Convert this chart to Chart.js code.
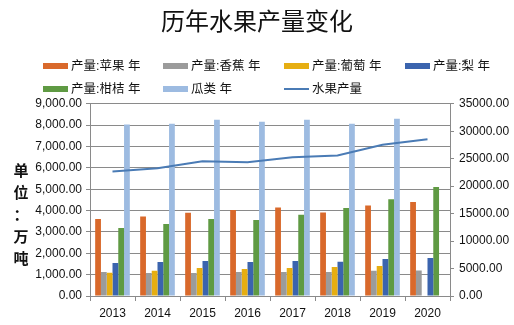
<!DOCTYPE html>
<html>
<head>
<meta charset="utf-8">
<script src="https://cdn.jsdelivr.net/npm/chart.js@4"></script>
<style>
  body { margin: 0; background: #fff; }
  #wrap { position: relative; width: 514px; height: 325px; }
  .lg { position: absolute; height: 16px; font: 12.5px "Liberation Sans", "Noto Sans CJK SC"; color: #111; white-space: nowrap; line-height: 16px; }
  .lg i { display: inline-block; width: 25px; height: 6px; vertical-align: middle; margin-right: 3px; margin-top: -2px; }
  .lg i.ln { height: 2px; }
  #ytitle { position: absolute; left: 12px; top: 159px; width: 18px; font: bold 15px "Noto Sans CJK SC"; line-height: 22px; text-align: center; color: #111; }
</style>
</head>
<body>
<div id="wrap">
  <canvas id="myChart" width="514" height="325"></canvas>
  <div id="legend"></div>
  <div id="ytitle">单<br>位<br>：<br>万<br>吨</div>
</div>
<script>
(function () {
  'use strict'

  // data
  var years = ['2013', '2014', '2015', '2016', '2017', '2018', '2019', '2020']
  var apple = [3610, 3720, 3900, 4030, 4140, 3910, 4235, 4405]
  var banana = [1120, 1080, 1080, 1120, 1125, 1125, 1180, 1190]
  var grape = [1090, 1180, 1310, 1265, 1310, 1360, 1405, null]
  var pear = [1550, 1590, 1640, 1595, 1640, 1600, 1735, 1780]
  var citrus = [3190, 3375, 3610, 3560, 3800, 4125, 4530, 5100]
  var melon = [8030, 8060, 8250, 8160, 8250, 8060, 8300, null]
  var total = [22660, 23270, 24550, 24370, 25280, 25580, 27530, 28560]

  var names = ['产量:苹果 年', '产量:香蕉 年', '产量:葡萄 年', '产量:梨 年', '产量:柑桔 年', '瓜类 年', '水果产量']
  var colors = ['#d9692b', '#9b9b9b', '#e6ae12', '#3b64ae', '#5f9a43', '#9dbbe1', '#4a7bb5']
  var series = [apple, banana, grape, pear, citrus, melon]

  var gridColor = '#8a8a8a'
  var font = { family: '"Liberation Sans", "Noto Sans CJK SC"', size: 12 }

  var datasets = [{
    type: 'line',
    label: names[6],
    data: total,
    yAxisID: 'y1',
    borderColor: colors[6],
    backgroundColor: colors[6],
    borderWidth: 2,
    pointRadius: 0,
    tension: 0,
    order: 0
  }]
  series.forEach(function (d, i) {
    datasets.push({
      type: 'bar',
      label: names[i],
      data: d,
      yAxisID: 'y',
      backgroundColor: colors[i],
      categoryPercentage: 0.77,
      barPercentage: 1.0,
      order: 1
    })
  })

  var ctx = document.getElementById('myChart')
  var myChart = new Chart(ctx, {
    data: { labels: years, datasets: datasets },
    options: {
      responsive: false,
      animation: false,
      layout: { padding: 0 },
      plugins: {
        legend: { display: false },
        tooltip: { enabled: false },
        title: {
          display: true,
          text: '历年水果产量变化',
          color: '#111',
          font: { family: '"Noto Sans CJK SC"', size: 24, weight: 'normal' },
          padding: { top: 6, bottom: 69 }
        }
      },
      scales: {
        x: {
          grid: { drawOnChartArea: false, tickLength: 5, color: gridColor, offset: true },
          border: { color: gridColor },
          ticks: { color: '#111', font: font, padding: 5 },
          afterFit: function (s) { s.height = 29 }
        },
        y: {
          position: 'left',
          min: 0,
          max: 9000,
          grid: { color: gridColor, tickLength: 4 },
          border: { color: gridColor },
          ticks: {
            stepSize: 1000,
            color: '#111',
            font: font,
            padding: 4,
            callback: function (v) {
              return v.toLocaleString('en-US', { minimumFractionDigits: 2, maximumFractionDigits: 2 })
            }
          },
          afterFit: function (s) { s.width = 90 }
        },
        y1: {
          position: 'right',
          min: 0,
          max: 35000,
          grid: { drawOnChartArea: false, color: gridColor, tickLength: 4 },
          border: { color: gridColor },
          ticks: {
            stepSize: 5000,
            color: '#111',
            font: font,
            padding: 5,
            callback: function (v) { return v.toFixed(2) }
          },
          afterFit: function (s) { s.width = 64 }
        }
      }
    }
  })

  // legend laid out in Excel-like columns
  var cols = [43, 163, 284, 405]
  var rows = [58, 81]
  var legend = document.getElementById('legend')
  names.forEach(function (n, i) {
    var el = document.createElement('div')
    el.className = 'lg'
    el.style.left = cols[i % 4] + 'px'
    el.style.top = rows[Math.floor(i / 4)] + 'px'
    var sw = document.createElement('i')
    if (i === 6) sw.className = 'ln'
    sw.style.background = colors[i]
    el.appendChild(sw)
    el.appendChild(document.createTextNode(n))
    legend.appendChild(el)
  })
})()
</script>
</body>
</html>
